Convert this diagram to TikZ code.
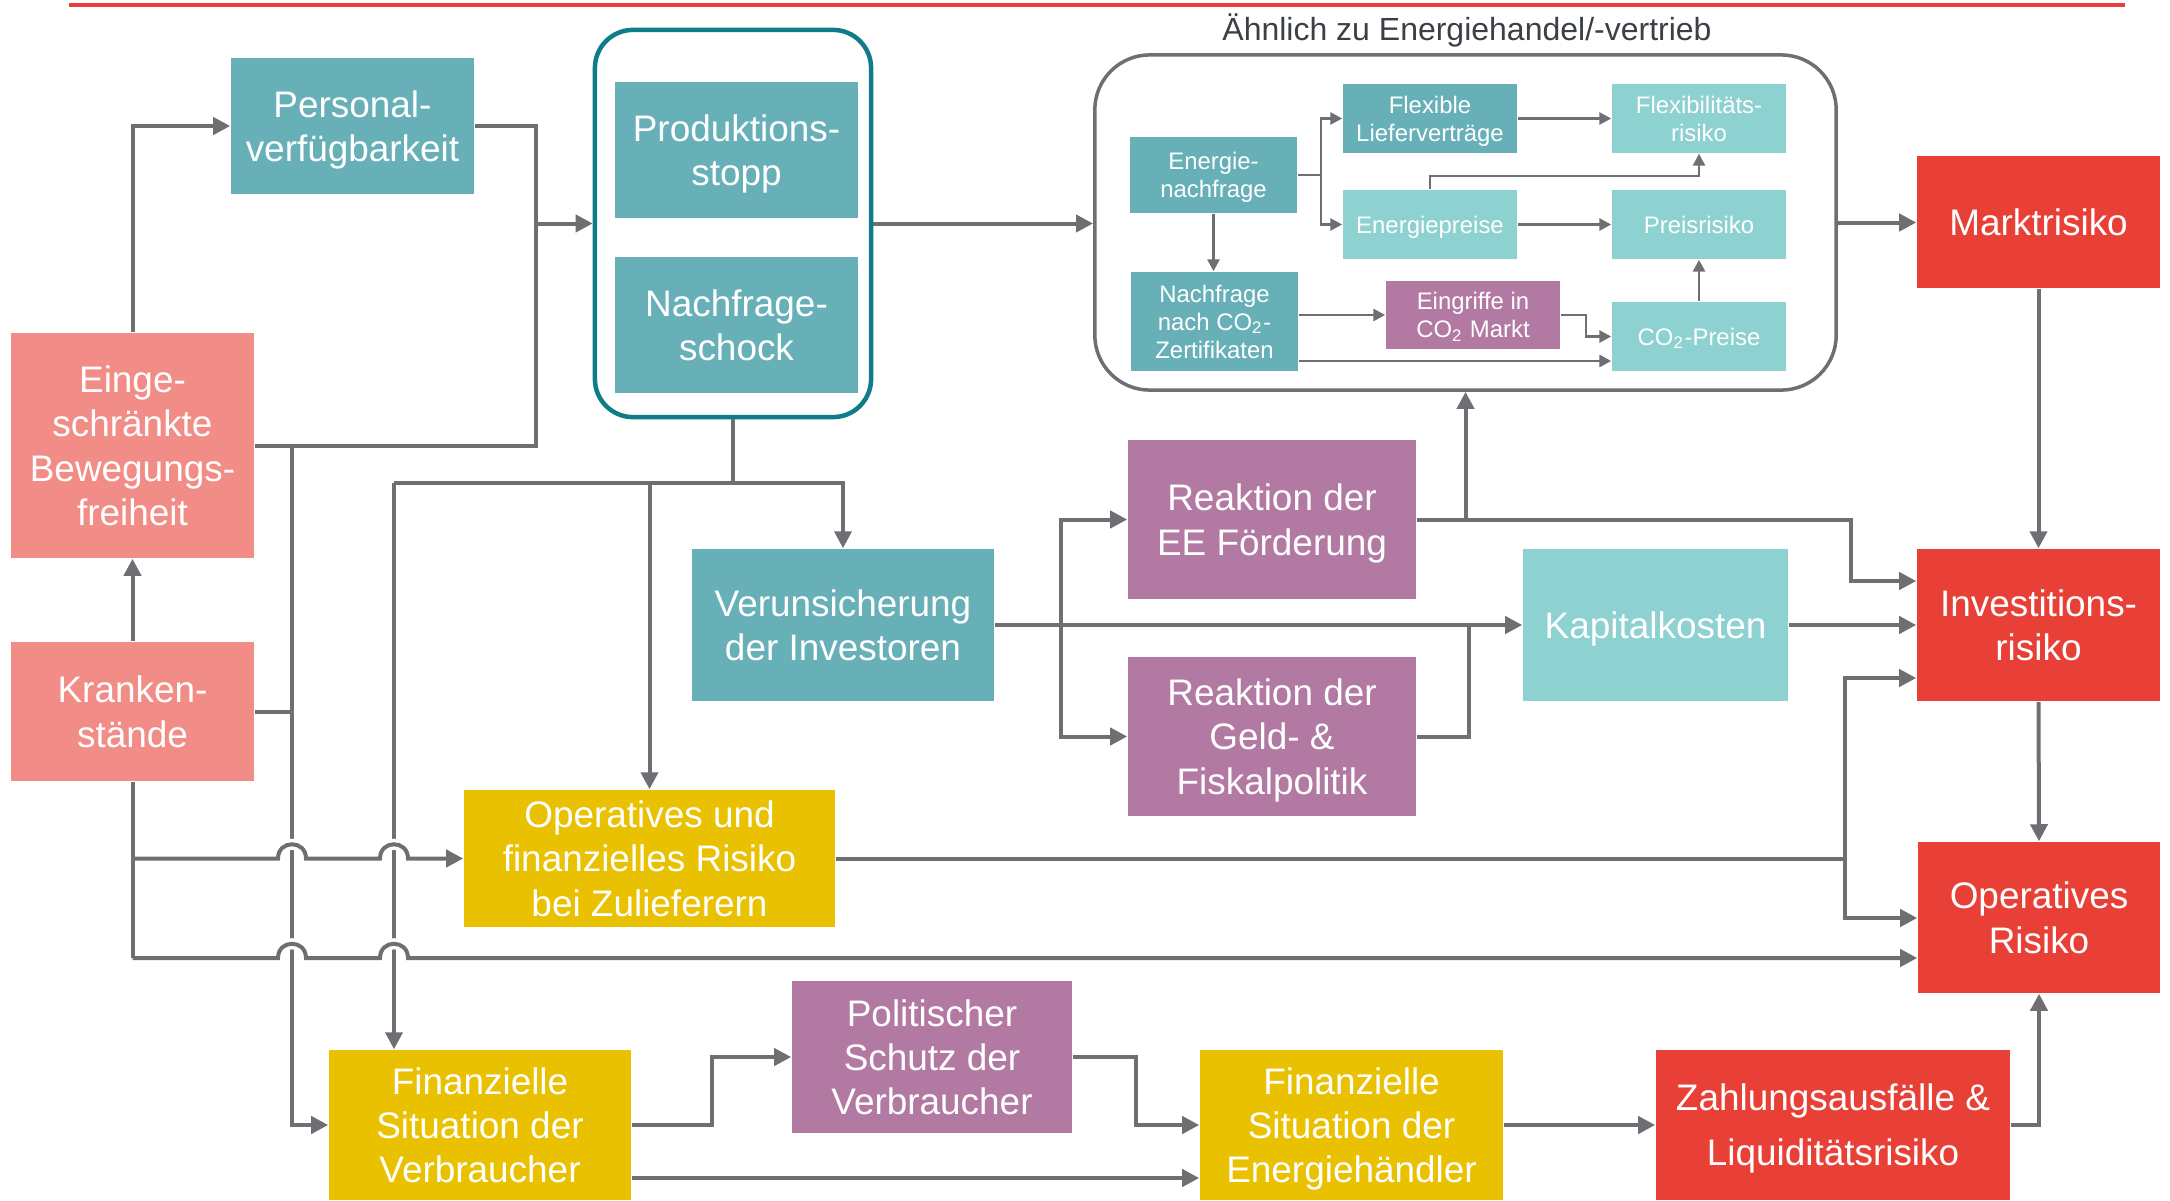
\documentclass[tikz,border=0pt]{standalone}
\usepackage{fontspec}
\setmainfont{Liberation Sans}
\usetikzlibrary{arrows.meta,calc}
\definecolor{tealc}{HTML}{67B0B7}
\definecolor{lightteal}{HTML}{8ED1D1}
\definecolor{salmon}{HTML}{F28C86}
\definecolor{riskred}{HTML}{E84036}
\definecolor{mauve}{HTML}{B27AA2}
\definecolor{mustard}{HTML}{E9C100}
\definecolor{linegray}{HTML}{6F6F73}
\definecolor{darkteal}{HTML}{0E7D87}
\definecolor{titlegray}{HTML}{3B4046}
\begin{document}
\begin{tikzpicture}[x=0.01cm,y=-0.01cm,
    box/.style={inner sep=0pt, align=center, text=white, text depth=0pt, font=\fontsize{10.5}{12.6}\selectfont},
    sbox/.style={inner sep=0pt, align=center, text=white, text depth=0pt, font=\fontsize{6.8}{8}\selectfont},
    flow/.style={draw=linegray, line width=0.04cm},
    flowarrow/.style={flow, -{Triangle[length=0.17cm,width=0.17cm]}},
    smallflow/.style={draw=linegray, line width=0.028cm},
    smallarrow/.style={smallflow, -{Triangle[length=0.12cm,width=0.12cm]}},
    hop/.style={preaction={draw=white, line width=0.11cm, arrows=-}}]
  \useasboundingbox (0,0) rectangle (2170,1200);
  \draw[riskred, line width=0.03cm] (69,5) -- (2125,5);
  %
  % Containers:
  \node[draw=darkteal, line width=0.045cm, rounded corners=0.38cm, minimum width=2.76cm, minimum height=3.87cm] (cont1) at (733,223.5) {};
  \node[draw=linegray, line width=0.035cm, rounded corners=0.55cm, minimum width=7.41cm, minimum height=3.35cm] (cont2) at (1465.5,222.5) {};
  \node[text=titlegray, font=\fontsize{9.1}{11}\selectfont] (titel) at (1467,30) {Ähnlich zu Energiehandel/-vertrieb};
  %
  % Boxes:
  \node[box, fill=tealc, minimum width=2.43cm, minimum height=1.36cm] (personal) at (352.5,126) {Personal-\\verfügbarkeit};
  \node[box, fill=tealc, minimum width=2.43cm, minimum height=1.36cm] (prod) at (736.5,150) {Produktions-\\stopp};
  \node[box, fill=tealc, minimum width=2.43cm, minimum height=1.36cm] (nachf) at (736.5,325) {Nachfrage-\\schock};
  \node[box, fill=salmon, minimum width=2.43cm, minimum height=2.25cm] (einge) at (132.5,445.5) {Einge-\\schränkte\\Bewegungs-\\freiheit};
  \node[box, fill=salmon, minimum width=2.43cm, minimum height=1.39cm] (kranken) at (132.5,711.5) {Kranken-\\stände};
  \node[box, fill=tealc, minimum width=3.02cm, minimum height=1.52cm] (verun) at (843,625) {Verunsicherung\\der Investoren};
  \node[box, fill=mauve, minimum width=2.88cm, minimum height=1.59cm] (reakEE) at (1272,519.5) {Reaktion der\\EE Förderung};
  \node[box, fill=mauve, minimum width=2.88cm, minimum height=1.59cm] (reakGeld) at (1272,736.5) {Reaktion der\\Geld- \&\\Fiskalpolitik};
  \node[box, fill=lightteal, minimum width=2.65cm, minimum height=1.52cm] (kapital) at (1655.5,625) {Kapitalkosten};
  \node[box, fill=riskred, minimum width=2.43cm, minimum height=1.32cm] (markt) at (2038.5,222) {Marktrisiko};
  \node[box, fill=riskred, minimum width=2.43cm, minimum height=1.52cm] (invest) at (2038.5,625) {Investitions-\\risiko};
  \node[box, fill=riskred, minimum width=2.42cm, minimum height=1.51cm] (opRisk) at (2039,917.5) {Operatives\\Risiko};
  \node[box, fill=mustard, minimum width=3.71cm, minimum height=1.37cm] (opFin) at (649.5,858.5) {Operatives und\\finanzielles Risiko\\bei Zulieferern};
  \node[box, fill=mustard, minimum width=3.02cm, minimum height=1.5cm] (finVerb) at (480,1125) {Finanzielle\\Situation der\\Verbraucher};
  \node[box, fill=mauve, minimum width=2.8cm, minimum height=1.52cm] (polit) at (932,1057) {Politischer\\Schutz der\\Verbraucher};
  \node[box, fill=mustard, minimum width=3.03cm, minimum height=1.5cm] (finHandel) at (1351.5,1125) {Finanzielle\\Situation der\\Energiehändler};
  \node[box, fill=riskred, minimum width=3.54cm, minimum height=1.5cm, font=\fontsize{10.5}{15.6}\selectfont] (zahlung) at (1833,1125) {Zahlungsausfälle \&\\Liquiditätsrisiko};
  %
  % Boxes in the trading container:
  \node[sbox, fill=tealc, minimum width=1.67cm, minimum height=0.76cm] (eNach) at (1213.5,175) {Energie-\\nachfrage};
  \node[sbox, fill=tealc, minimum width=1.74cm, minimum height=0.69cm] (flexLV) at (1430,118.5) {Flexible\\Lieferverträge};
  \node[sbox, fill=lightteal, minimum width=1.74cm, minimum height=0.69cm] (flexRisk) at (1699,118.5) {Flexibilitäts-\\risiko};
  \node[sbox, fill=lightteal, minimum width=1.74cm, minimum height=0.69cm] (ePreise) at (1430,224.5) {Energiepreise};
  \node[sbox, fill=lightteal, minimum width=1.74cm, minimum height=0.69cm] (pRisk) at (1699,224.5) {Preisrisiko};
  \node[sbox, fill=tealc, minimum width=1.67cm, minimum height=0.99cm] (co2Nach) at (1214.5,321.5) {Nachfrage\\nach CO\textsubscript{2}-\\Zertifikaten};
  \node[sbox, fill=mauve, minimum width=1.74cm, minimum height=0.68cm] (eingriffe) at (1473,315) {Eingriffe in\\CO\textsubscript{2} Markt};
  \node[sbox, fill=lightteal, minimum width=1.74cm, minimum height=0.69cm] (co2Preise) at (1699,336.5) {CO\textsubscript{2}-Preise};
  %
  % Junctions:
  \coordinate (j1) at (536,223.5);
  \coordinate (vA) at (292,445.5);
  \coordinate (vB) at (394,483);
  \coordinate (lowrow) at (0,958);
  \coordinate (vC) at (1845,858.5);
  \coordinate (invA) at (0,678);
  \coordinate (opA) at (0,918);
  \coordinate (xD) at (1851,581);
  \coordinate (xE) at (1061,625);
  \coordinate (xF) at (1469,625);
  \coordinate (xG) at (712,1125);
  \coordinate (xH) at (1136,1125);
  \coordinate (yJ) at (0,1178);
  \coordinate (xK) at (1321,175);
  \coordinate (yM) at (0,176);
  \coordinate (xN) at (1586,336.5);
  \coordinate (yP) at (0,361);
  %
  % Edges:
  \draw[flowarrow] (einge.north) |- (personal.west);
  \draw[flow] (personal.east) -| (j1);
  \draw[flow] (einge.east) -| (j1);
  \draw[flowarrow] (j1) -- (cont1.west);
  \draw[flowarrow] (kranken.north) -- (einge.south);
  \draw[flowarrow] (vA) |- (finVerb.west);
  \draw[flow] (kranken.east) -- (kranken.east -| vA);
  \draw[flow] (cont1.south) -- (cont1.south |- vB);
  \draw[flowarrow] (vB) -| (verun.north);
  \draw[flowarrow] (vB) -- (vB |- finVerb.north);
  \draw[flowarrow] (opFin.north |- vB) -- (opFin.north);
  % rows with hops
  \draw[flowarrow, hop] (kranken.south |- opFin.west) -- ($(vA |- opFin.west)+(-14,0)$) .. controls +(0,-19) and +(0,-19) .. ++(28,0) -- ($(vB |- opFin.west)+(-14,0)$) .. controls +(0,-19) and +(0,-19) .. ++(28,0) -- (opFin.west);
  \draw[flowarrow, hop] (kranken.south |- lowrow) -- ($(vA |- lowrow)+(-14,0)$) .. controls +(0,-19) and +(0,-19) .. ++(28,0) -- ($(vB |- lowrow)+(-14,0)$) .. controls +(0,-19) and +(0,-19) .. ++(28,0) -- (opRisk.west |- lowrow);
  \draw[flow] (kranken.south) -- (kranken.south |- lowrow);
  %
  \draw[flowarrow] (cont1.east) -- (cont1.east -| cont2.west);
  \draw[flowarrow] (cont2.east) -- (cont2.east -| markt.west);
  \draw[flowarrow] (markt.south) -- (invest.north);
  \draw[flowarrow] (invest.south) -- (opRisk.north);
  \draw[flowarrow] (verun.east) -- (kapital.west);
  \draw[flowarrow] (xE |- verun.east) |- (reakEE.west);
  \draw[flowarrow] (xE |- verun.east) |- (reakGeld.west);
  \draw[flow] (reakGeld.east) -| (xF);
  \draw[flowarrow] (reakEE.east) -| (xD) -- (invest.west |- xD);
  \draw[flowarrow] (cont2.south |- reakEE.east) -- (cont2.south);
  \draw[flowarrow] (kapital.east) -- (invest.west);
  \draw[flow] (opFin.east) -- (vC);
  \draw[flowarrow] (vC) |- (invest.west |- invA);
  \draw[flowarrow] (vC) |- (opRisk.west |- opA);
  \draw[flowarrow] (finVerb.east) -| (xG |- polit.west) -- (polit.west);
  \draw[flowarrow] (polit.east) -| (xH) -- (finHandel.west);
  \draw[flowarrow] (finVerb.east |- yJ) -- (finHandel.west |- yJ);
  \draw[flowarrow] (finHandel.east) -- (zahlung.west);
  \draw[flowarrow] (zahlung.east) -| (opRisk.south);
  %
  % Edges in the trading container:
  \draw[smallflow] (eNach.east) -- (xK);
  \draw[smallarrow] (xK) |- (flexLV.west);
  \draw[smallarrow] (xK) |- (ePreise.west);
  \draw[smallarrow] (flexLV.east) -- (flexRisk.west);
  \draw[smallarrow] (ePreise.north) -- (ePreise.north |- yM) -| (flexRisk.south);
  \draw[smallarrow] (ePreise.east) -- (pRisk.west);
  \draw[smallarrow] (eNach.south) -- (eNach.south |- co2Nach.north);
  \draw[smallarrow] (co2Nach.east |- eingriffe.west) -- (eingriffe.west);
  \draw[smallarrow] (eingriffe.east) -| (xN) -- (co2Preise.west);
  \draw[smallarrow] (co2Nach.east |- yP) -- (co2Preise.west |- yP);
  \draw[smallarrow] (co2Preise.north) -- (pRisk.south);
\end{tikzpicture}
\end{document}
